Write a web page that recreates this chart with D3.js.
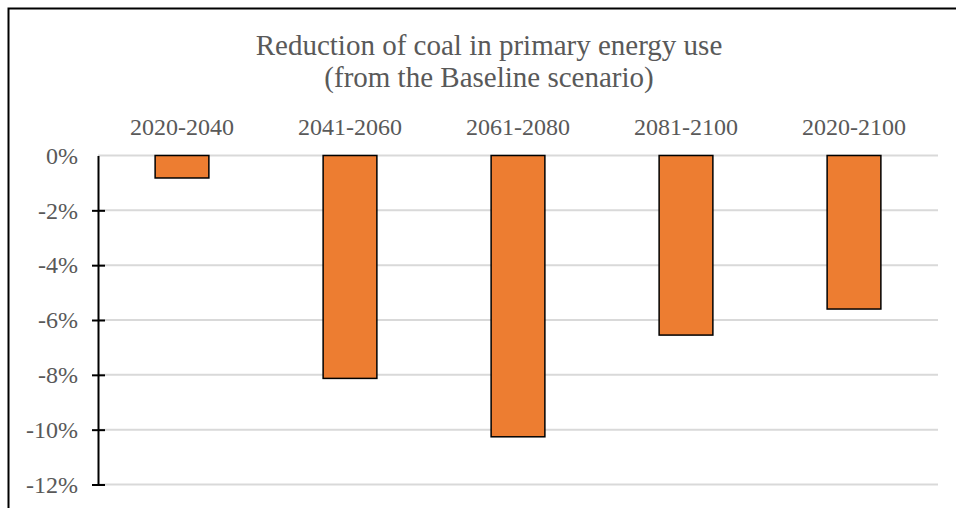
<!DOCTYPE html>
<html><head><meta charset="utf-8">
<script src="https://cdn.jsdelivr.net/npm/d3@7"></script>
<style>body{margin:0;background:#fff;} svg{display:block;}</style>
</head><body>
<svg id="c" width="956" height="508"></svg>
<script>
const categories = ["2020-2040","2041-2060","2061-2080","2081-2100","2020-2100"];
const values = [-0.0082,-0.0813,-0.1026,-0.0655,-0.0560];
const yTicks = [0,-0.02,-0.04,-0.06,-0.08,-0.10,-0.12];
const titleLines = ["Reduction of coal in primary energy use","(from the Baseline scenario)"];

const svg = d3.select("#c");
const font = "'Liberation Serif','Times New Roman',serif";
const txt = "#595959";
const L = 98, R = 938, T = 155.5, B = 484.5;

svg.append("rect").attr("x",8.5).attr("y",8.5).attr("width",1000).attr("height",1000)
  .attr("fill","#fff").attr("stroke","#000").attr("stroke-width",2);

const x = d3.scaleBand().domain(categories).range([L,R]).paddingInner(0.68).paddingOuter(0.34);
const y = d3.scaleLinear().domain([0,-0.12]).range([T,B]);

// gridlines
svg.append("g").selectAll("line").data(yTicks).join("line")
  .attr("x1",L).attr("x2",R).attr("y1",d=>y(d)).attr("y2",d=>y(d))
  .attr("stroke","#d9d9d9").attr("stroke-width",2);

// bars
svg.append("g").selectAll("rect").data(values).join("rect")
  .attr("x",(d,i)=>x(categories[i])).attr("width",x.bandwidth())
  .attr("y",y(0)).attr("height",d=>y(d)-y(0))
  .attr("fill","#ED7D31").attr("stroke","#000").attr("stroke-width",1.5);

// y axis
const ax = svg.append("g").attr("transform",`translate(${L},0)`)
  .call(d3.axisLeft(y).tickValues(yTicks).tickFormat(d3.format(".0%")).tickSize(6).tickSizeOuter(0));
ax.select(".domain").attr("stroke","#000").attr("stroke-width",2);
ax.selectAll(".tick line").attr("stroke","#000").attr("stroke-width",2).attr("x2",(d)=> d===0 ? -6 : 7).attr("x1",-6);
ax.selectAll(".tick text").attr("x",-20).attr("font-family",font).attr("font-size",24).attr("fill",txt)
  .text(d=>d3.format(".0%")(d).replace("−","-"));

// category labels on top
svg.append("g").selectAll("text").data(categories).join("text")
  .attr("x",d=>x(d)+x.bandwidth()/2).attr("y",135)
  .attr("text-anchor","middle").attr("font-family",font).attr("font-size",24).attr("fill",txt)
  .text(d=>d);

// title
svg.append("g").selectAll("text").data(titleLines).join("text")
  .attr("x",489).attr("y",(d,i)=>55+i*31.5)
  .attr("text-anchor","middle").attr("font-family",font).attr("font-size",29).attr("fill",txt)
  .text(d=>d);
</script>
</body></html>
